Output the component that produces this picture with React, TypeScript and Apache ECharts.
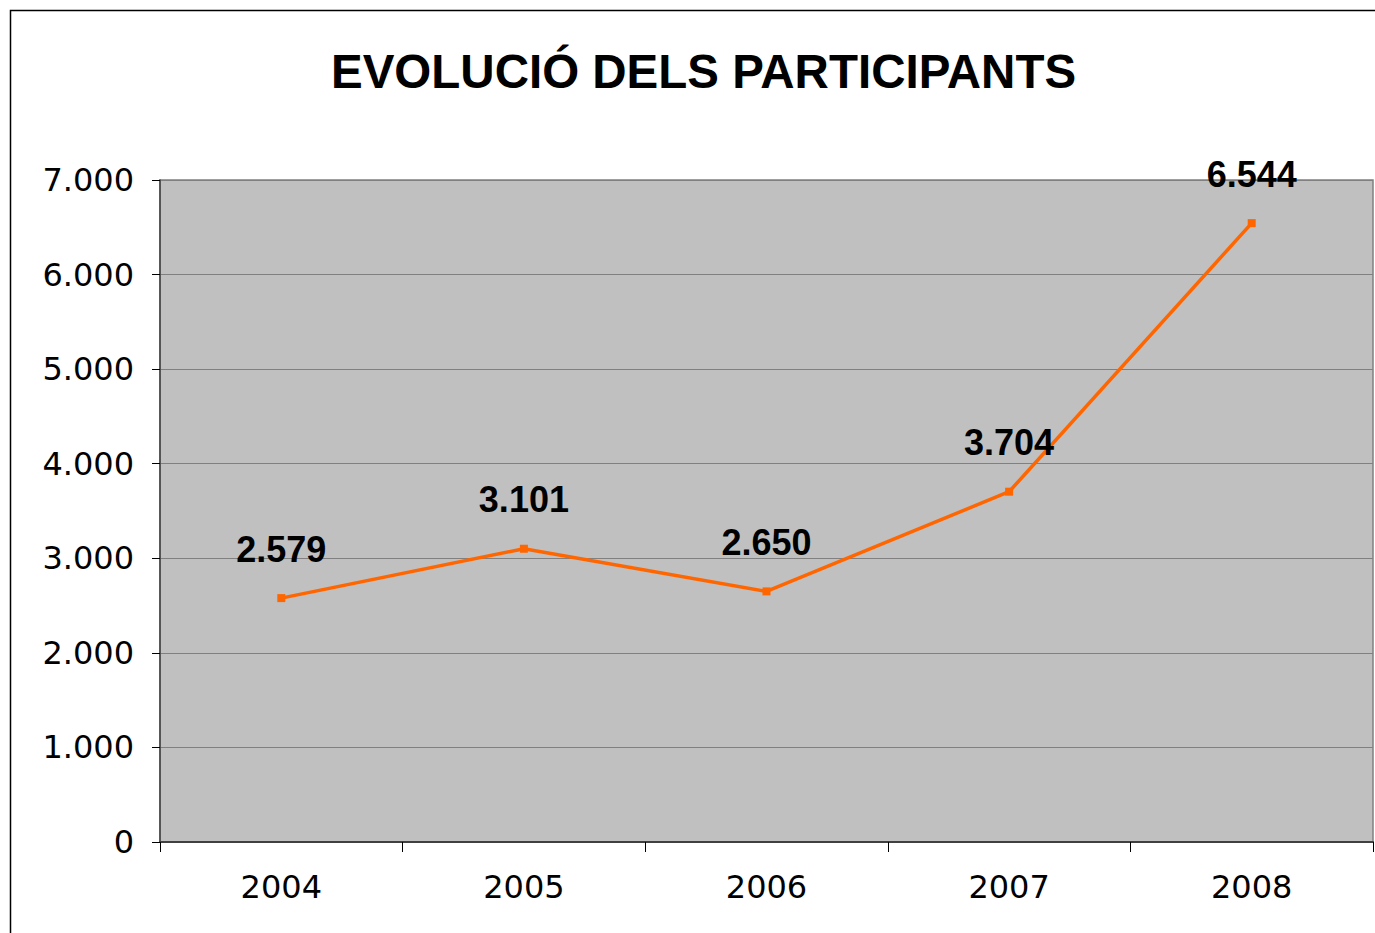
import React, { useEffect, useRef } from "react";
import * as echarts from "echarts";

const TITLE = "EVOLUCIÓ DELS PARTICIPANTS";
const years = ["2004", "2005", "2006", "2007", "2008"];
const participants = [2579, 3101, 2650, 3704, 6544];
const yMin = 0;
const yMax = 7000;
const yInterval = 1000;

const fmt = (v: number) => String(v).replace(/\B(?=(\d{3})+(?!\d))/g, ".");

export default function App() {
  const ref = useRef<HTMLDivElement>(null);
  useEffect(() => {
    if (!ref.current) return;
    const chart = echarts.init(ref.current, undefined, { renderer: "svg" });
    chart.setOption({
      animation: false,
      backgroundColor: "#ffffff",
      title: {
        text: TITLE,
        left: 326,
        top: 42,
        textStyle: {
          fontFamily: "Liberation Sans",
          fontWeight: "bold",
          fontSize: 47.5,
          color: "#000000",
        },
      },
      graphic: [
        {
          type: "rect",
          shape: { x: 10.5, y: 10.5, width: 1400, height: 1000 },
          style: { fill: "none", stroke: "#000000", lineWidth: 1.5 },
          silent: true,
        },
      ],
      grid: {
        left: 160,
        right: 2,
        top: 180,
        bottom: 91,
        show: true,
        backgroundColor: "#c0c0c0",
        borderColor: "#808080",
        borderWidth: 1.5,
        containLabel: false,
      },
      xAxis: {
        type: "category",
        data: years,
        boundaryGap: true,
        axisLine: { show: true, lineStyle: { color: "#404040", width: 2 } },
        axisTick: { show: true, inside: false, length: 10, alignWithLabel: false, lineStyle: { color: "#000000", width: 1 } },
        axisLabel: {
          margin: 29,
          fontFamily: "DejaVu Sans",
          fontSize: 32,
          color: "#000000",
        },
        splitLine: { show: false },
      },
      yAxis: {
        type: "value",
        min: yMin,
        max: yMax,
        interval: yInterval,
        axisLine: { show: true, lineStyle: { color: "#404040", width: 1.5 } },
        axisTick: { show: true, inside: false, length: 8, lineStyle: { color: "#000000", width: 1 } },
        axisLabel: {
          margin: 26,
          fontFamily: "DejaVu Sans",
          fontSize: 32,
          color: "#000000",
          formatter: (v: number) => fmt(v),
        },
        splitLine: { show: true, lineStyle: { color: "#808080", width: 1 } },
      },
      series: [
        {
          type: "line",
          data: participants,
          symbol: "rect",
          symbolSize: 8,
          itemStyle: { color: "#ff6600" },
          lineStyle: { color: "#ff6600", width: 3.5 },
          label: {
            show: true,
            position: "top",
            distance: 27,
            fontFamily: "Liberation Sans",
            fontWeight: "bold",
            fontSize: 36,
            color: "#000000",
            formatter: (p: any) => fmt(p.value),
          },
        },
      ],
    });
    return () => chart.dispose();
  }, []);
  return (
    <div
      ref={ref}
      style={{ position: "fixed", left: 0, top: 0, width: 1375, height: 933 }}
    />
  );
}
